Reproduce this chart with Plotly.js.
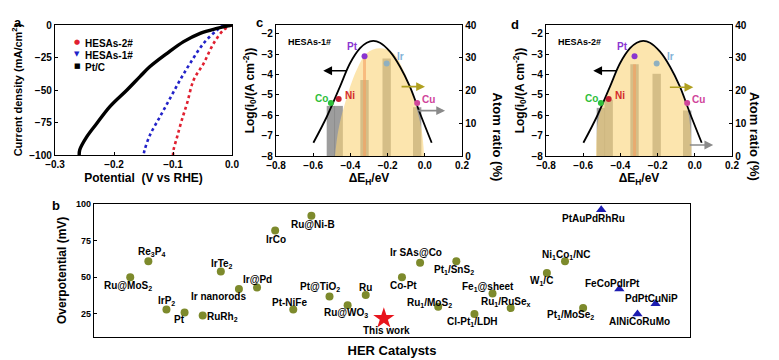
<!DOCTYPE html>
<html><head><meta charset="utf-8">
<script src="https://cdn.plot.ly/plotly-3.0.1.min.js"></script>
<style>html,body{margin:0;padding:0;background:#fff}#chart{width:779px;height:360px}</style>
</head><body><div id="chart"></div>
<script>
// ---------- Panel a : polarization curves ----------
const potHESA2 = [0, -0.014, -0.031, -0.048, -0.065, -0.076, -0.085, -0.093, -0.099, -0.100];
const jHESA2   = [0, -3.8, -14, -29.5, -42.3, -60, -73, -86, -96, -100];
const potHESA1 = [-0.014, -0.025, -0.048, -0.071, -0.088, -0.105, -0.122, -0.139, -0.148, -0.150];
const jHESA1   = [0, -3.8, -14, -29.5, -42.3, -56.4, -70.5, -84.6, -96, -100];
const potPtC   = [0, -0.0255, -0.054, -0.082, -0.110, -0.139, -0.156, -0.178, -0.207, -0.229, -0.246, -0.258, -0.259];
const jPtC     = [0, -2.6, -6.4, -12.8, -21.8, -32, -39.7, -50, -62.8, -75.6, -85.9, -96, -100];
const seriesNames = ['HESAs-2#', 'HESAs-1#', 'Pt/C'];

// ---------- Panel b : HER catalysts comparison ----------
const catNames = ['Ru@MoS<sub>2</sub>','Re<sub>3</sub>P<sub>4</sub>','IrP<sub>2</sub>','Pt','RuRh<sub>2</sub>','IrTe<sub>2</sub>','Ir nanorods','Ir@Pd','IrCo','Pt-NiFe','Ru@Ni-B','Pt@TiO<sub>2</sub>','Ru@WO<sub>3</sub>','Ru','This work','Co-Pt','Ir SAs@Co','Ru<sub>1</sub>/MoS<sub>2</sub>','Pt<sub>1</sub>/SnS<sub>2</sub>','Cl-Pt<sub>1</sub>/LDH','Fe<sub>1</sub>@sheet','Ru<sub>1</sub>/RuSe<sub>x</sub>','W<sub>1</sub>/C','Ni<sub>1</sub>Co<sub>1</sub>/NC','Pt<sub>1</sub>/MoSe<sub>2</sub>','PtAuPdRhRu','FeCoPdIrPt','AlNiCoRuMo','PdPtCuNiP'];
const catSlot  = [1,2,3,4,5,6,7,8,9,10,11,12,13,14,15,16,17,18,19,20,21,22,24,25,26,27,28,29,30];
const overpot  = [50,61,28,26,24,54,42,43,82,28,92,37,31,38,22,50,60,30,61,25,39,29,53,61,29,96,42,25,32];
const catKind  = ['o','o','o','o','o','o','o','o','o','o','o','o','o','o','this','o','o','o','o','o','o','o','o','o','o','hea','hea','hea','hea'];

// ---------- Panels c, d : volcano ----------
const volcanoX = [-0.599,-0.527,-0.456,-0.402,-0.348,-0.312,-0.277,-0.241,-0.187,-0.133,-0.080,-0.026,0.037];
const volcanoY = [-7.35,-6.07,-4.59,-3.44,-2.70,-2.43,-2.34,-2.43,-2.87,-3.61,-4.59,-5.90,-7.35];
const elements = ['Co','Ni','Pt','Ir','Cu'];
const elemDEH  = [-0.505,-0.463,-0.324,-0.205,-0.041];
const elemLogI = [-5.4,-5.2,-3.1,-3.45,-5.4];
const ratioHESA1 = [15.3,15.3,23.2,29.8,14.9];
const ptLineHESA1 = 30.3;
const ratioHESA2 = [14.7,17.2,28,25.1,13.9];
const ptLineHESA2 = 28;
const areaX1 = [-0.483,-0.465,-0.429,-0.366,-0.312,-0.241,-0.169,-0.116,-0.062,-0.017,-0.004];
const areaR1 = [0,7.9,16.1,26.3,31.4,32.9,31.4,26.3,18.1,7.9,0];
const areaX2 = [-0.531,-0.519,-0.483,-0.420,-0.366,-0.295,-0.223,-0.151,-0.080,-0.035,-0.017];
const areaR2 = [0,11.1,17.2,25.4,31.6,34.9,33.6,28.5,20.3,13.1,0];

// ---------- styles ----------
const FONT = 'Liberation Sans, Arial, sans-serif';
const W = 779, H = 360;
const px = v => v / W, py = v => 1 - v / H;
const elemColor = ['#2fbf3a','#d42a2a','#8a35d0','#7fb2d6','#d0449a'];
const dotColor  = ['#2fbf3a','#c42030','#8a35d0','#8fb0c0','#d0449a'];

const traces = [];
// panel a
const aCols = ['#e02030','#2222c8','#000000'];
[[potHESA2,jHESA2],[potHESA1,jHESA1],[potPtC,jPtC]].forEach((d,i)=>{
  traces.push({x:d[0], y:d[1], xaxis:'x', yaxis:'y', mode:'lines', name:seriesNames[i], showlegend:false,
    line:{color:aCols[i], width:i===2?3.4:2.6, shape:'spline', dash: i===2?'solid':'dot'}});
});
// panel b
const kinds = {o:{symbol:'circle', color:'#7d8a2c', size:8}, hea:{symbol:'triangle-up', color:'#1c1cb0', size:9}, 'this':{symbol:'star', color:'#e8141c', size:16}};
Object.keys(kinds).forEach(k=>{
  const idx = catKind.map((c,i)=>c===k?i:-1).filter(i=>i>=0);
  traces.push({x:idx.map(i=>catSlot[i]), y:idx.map(i=>overpot[i]), xaxis:'x2', yaxis:'y2', mode:'markers', showlegend:false,
    marker:{symbol:kinds[k].symbol, color:kinds[k].color, size:kinds[k].size, line:{width:0}}});
});
// panels c & d
function volcanoPanel(xa, yBase, yOver, areaX, areaR, ratio, ptLine){
  traces.push({x:areaX, y:areaR, xaxis:xa, yaxis:yBase, mode:'lines', fill:'toself', fillcolor:'rgba(250,212,120,0.6)', line:{width:0, shape:'spline'}, showlegend:false, hoverinfo:'skip'});
  traces.push({x:elemDEH, y:ratio, xaxis:xa, yaxis:yBase, type:'bar', width:0.045, marker:{color:'rgba(115,115,115,0.7)'}, showlegend:false});
  traces.push({x:[elemDEH[2]], y:[ptLine], xaxis:xa, yaxis:yBase, type:'bar', width:0.016, marker:{color:'rgba(236,80,60,0.6)'}, showlegend:false});
  traces.push({x:volcanoX, y:volcanoY, xaxis:xa, yaxis:yOver, mode:'lines', line:{color:'#000', width:1.8, shape:'spline'}, showlegend:false});
  traces.push({x:elemDEH, y:elemLogI, xaxis:xa, yaxis:yOver, mode:'markers', marker:{color:dotColor, size:6}, showlegend:false});
}
volcanoPanel('x3','y3','y4',areaX1,areaR1,ratioHESA1,ptLineHESA1);
volcanoPanel('x4','y5','y6',areaX2,areaR2,ratioHESA2,ptLineHESA2);

const tickF = s => ({family:FONT, size:s, color:'#000', weight:'bold'});
const titleF = s => ({family:FONT, size:s, color:'#000', weight:'bold'});
const axBase = {showline:true, linecolor:'#000', linewidth:1.4, showgrid:false, zeroline:false, ticks:'inside', ticklen:3, tickcolor:'#000'};

const layout = {
  width:W, height:H, margin:{l:0,r:0,t:0,b:0}, paper_bgcolor:'#fff', plot_bgcolor:'rgba(0,0,0,0)',
  font:{family:FONT, weight:'bold', color:'#000', size:10}, barmode:'overlay', showlegend:false,
  xaxis:Object.assign({}, axBase, {domain:[px(55),px(232)], anchor:'y', range:[-0.3,0], dtick:0.1, tickformat:'.1f', mirror:true,
    tickfont:tickF(10), title:{text:'Potential  (V vs RHE)', font:titleF(12), standoff:4}}),
  yaxis:Object.assign({}, axBase, {domain:[py(155),py(25)], anchor:'x', range:[-100,0], dtick:25, mirror:true,
    tickfont:tickF(10), title:{text:'Current density (mA/cm<sup>2</sup>)', font:titleF(11), standoff:4}}),
  xaxis2:Object.assign({}, axBase, {domain:[px(94),px(690)], anchor:'y2', range:[-1,31.9], showticklabels:false, ticks:'', mirror:true,
    title:{text:'HER Catalysts', font:titleF(13), standoff:8}}),
  yaxis2:Object.assign({}, axBase, {domain:[py(336.7),py(204)], anchor:'x2', range:[9.5,100], tickvals:[25,50,75,100], mirror:true,
    tickfont:tickF(9), title:{text:'Overpotential (mV)', font:titleF(12), standoff:6}}),
  xaxis3:Object.assign({}, axBase, {domain:[px(276),px(462)], anchor:'y3', range:[-0.8,0.2], dtick:0.2, tickformat:'.1f', mirror:true,
    tickfont:tickF(10), title:{text:'ΔE<sub>H</sub>/eV', font:titleF(12), standoff:3}}),
  yaxis3:Object.assign({}, axBase, {domain:[py(156),py(25)], anchor:'x3', side:'right', range:[0,40], dtick:10, tickfont:tickF(10)}),
  yaxis4:Object.assign({}, axBase, {overlaying:'y3', anchor:'x3', side:'left', range:[-8,-1.56], dtick:1, tickfont:tickF(10),
    title:{text:'Log(i<sub>0</sub>/(A cm<sup>-2</sup>))', font:titleF(12), standoff:4}}),
  xaxis4:Object.assign({}, axBase, {domain:[px(546),px(732)], anchor:'y5', range:[-0.8,0.2], dtick:0.2, tickformat:'.1f', mirror:true,
    tickfont:tickF(10), title:{text:'ΔE<sub>H</sub>/eV', font:titleF(12), standoff:3}}),
  yaxis5:Object.assign({}, axBase, {domain:[py(156),py(25)], anchor:'x4', side:'right', range:[0,40], dtick:10, tickfont:tickF(10)}),
  yaxis6:Object.assign({}, axBase, {overlaying:'y5', anchor:'x4', side:'left', range:[-8,-1.56], dtick:1, tickfont:tickF(10),
    title:{text:'Log(i<sub>0</sub>/(A cm<sup>-2</sup>))', font:titleF(12), standoff:4}}),
  annotations:[]
};
const ann = layout.annotations;
const txt = (o)=>ann.push(Object.assign({showarrow:false, font:titleF(10)}, o));

// panel letters
[['a',12,13],['b',50,205],['c',254,13],['d',515,15]].forEach(p=>txt({text:p[0], xref:'paper', yref:'paper', x:px(p[1]), y:py(p[2]), font:titleF(13)}));

// panel a legend
const legSym = ['●','▼','■'];
seriesNames.forEach((n,i)=>{
  const yy = py(36 + i*12);
  txt({text:legSym[i], xref:'paper', yref:'paper', x:px(71.7), y:yy, font:{family:'DejaVu Sans', size:7, color:aCols[i]}});
  txt({text:n, xref:'paper', yref:'paper', x:px(83), y:yy, xanchor:'left', font:titleF(10)});
});

// panel b labels (pixel shifts from the point)
const labelShift = [[-2,-9],[3,9],[0,8.5],[-5,-7],[20,-2],[1,7.5],[-20,-7.5],[0,8],[1,-9],[-4,7],[2,-9],[-10,9],[-2,-8],[0,7],[3,-12],[2,-8],[-4,10],[-9,4],[-2,-9],[-2,-8],[-5,6],[-5,6],[-5,-8],[1,6],[-13,-7],[-8,-9],[-7,6],[2,-8],[-4,5]];
catNames.forEach((n,i)=>txt({text:n, xref:'x2', yref:'y2', x:catSlot[i], y:overpot[i], xshift:labelShift[i][0], yshift:labelShift[i][1], font:titleF(10)}));

// panels c, d decorations
const elemShift = [[-9,5],[11,4],[-12,10],[14,6.5],[11.5,4]];
function decorate(xa, yo, name, rightTitleX, arrows){
  txt({text:name, xref:xa+' domain', yref:'y'+yo.slice(1)+' domain', x:0.055, y:0.925, xanchor:'left', font:titleF(9)});
  elements.forEach((e,i)=>txt({text:e, xref:xa, yref:yo, x:elemDEH[i], y:elemLogI[i], xshift:elemShift[i][0], yshift:elemShift[i][1], font:{family:FONT, size:10, weight:'bold', color:elemColor[i]}}));
  txt({text:'Atom ratio (%)', xref:'paper', yref:'paper', x:px(rightTitleX), y:py(90), textangle:90, font:titleF(13)});
  arrows.forEach(a=>ann.push({xref:xa, yref:yo, axref:xa, ayref:yo, x:a[2], y:a[3], ax:a[0], ay:a[1], showarrow:true, arrowhead:2, arrowsize:1.1, arrowwidth:1.6, arrowcolor:a[4], text:''}));
}
decorate('x3','y4','HESAs-1#',497,[[-0.411,-3.81,-0.546,-3.81,'#000'],[-0.133,-4.59,0.001,-4.59,'#b0a020'],[-0.044,-5.77,0.109,-5.77,'#8a8a8a']]);
decorate('x4','y6','HESAs-2#',764,[[-0.411,-3.81,-0.546,-3.81,'#000'],[-0.142,-4.62,-0.008,-4.62,'#b0a020'],[-0.035,-7.46,0.099,-7.46,'#8a8a8a']]);

Plotly.newPlot('chart', traces, layout, {displayModeBar:false});
</script></body></html>
